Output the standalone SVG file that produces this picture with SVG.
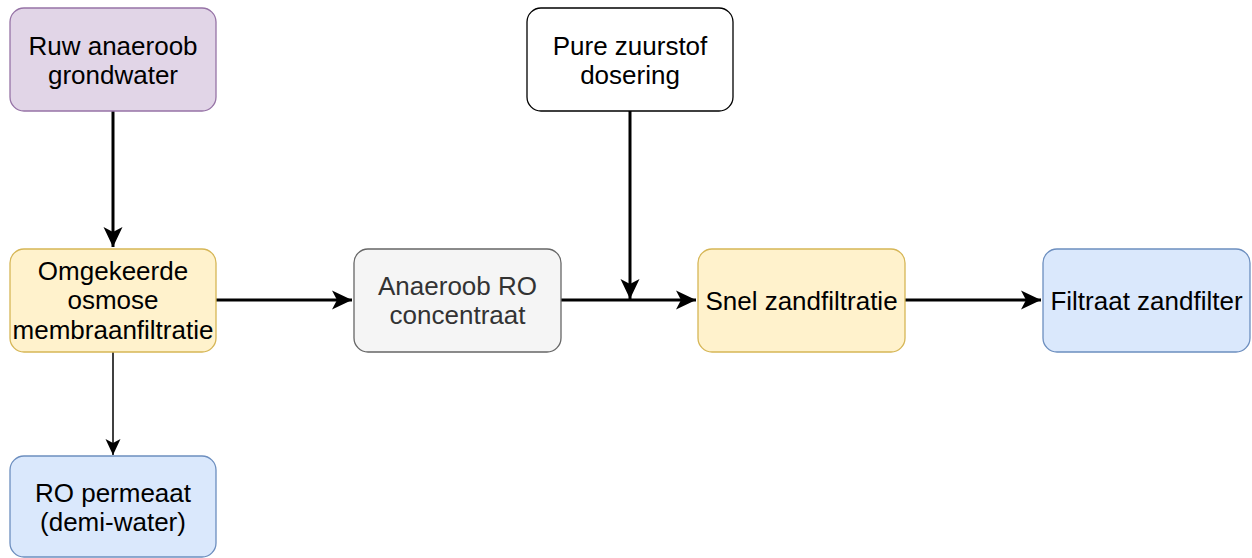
<svg xmlns="http://www.w3.org/2000/svg" width="1252" height="558" viewBox="0 0 1252 558">
<style>
.n{stroke-width:1.3}
.t{font-family:"Liberation Sans",Arial,sans-serif;font-size:26px;text-anchor:middle;dominant-baseline:central;fill:#000}
.purple{fill:#e1d5e7;stroke:#9673a6}
.yellow{fill:#fff2cc;stroke:#d6b656}
.gray{fill:#f5f5f5;stroke:#666666}
.blue{fill:#dae8fc;stroke:#6c8ebf}
.white{fill:#ffffff;stroke:#000000}
.thick{stroke:#000;stroke-width:3;fill:none}
.thin{stroke:#000;stroke-width:1.5;fill:none}
</style>
<defs>
<marker id="aT" markerUnits="userSpaceOnUse" viewBox="-22 -11 23 22" refX="0" refY="0" markerWidth="23" markerHeight="22" orient="auto" overflow="visible">
<path d="M0,0 L-20,-9.5 L-15,0 L-20,9.5 Z" fill="#000"/>
</marker>
<marker id="aS" markerUnits="userSpaceOnUse" viewBox="-18 -9 19 18" refX="0" refY="0" markerWidth="19" markerHeight="18" orient="auto" overflow="visible">
<path d="M0,0 L-16,-7.5 L-12,0 L-16,7.5 Z" fill="#000"/>
</marker>
</defs>
<g id="connectors">
<path class="thick" d="M113,111 L113,247" marker-end="url(#aT)"/>
<path class="thick" d="M216,300 L352,300" marker-end="url(#aT)"/>
<path class="thin" d="M113,352 L113,455" marker-end="url(#aS)"/>
<path class="thick" d="M561,300 L696,300" marker-end="url(#aT)"/>
<path class="thick" d="M630,111 L630,299" marker-end="url(#aT)"/>
<path class="thick" d="M905,300 L1041,300" marker-end="url(#aT)"/>
</g>
<g id="ruw">
<rect class="n purple" x="10" y="8" width="206" height="103" rx="14"/>
<text class="t" x="113" y="45.5">Ruw anaeroob</text>
<text class="t" x="113" y="74.5">grondwater</text>
</g>
<g id="pure">
<rect class="n white" x="527" y="8" width="206" height="103" rx="14"/>
<text class="t" x="630" y="45.5">Pure zuurstof</text>
<text class="t" x="630" y="74.5">dosering</text>
</g>
<g id="omgekeerde">
<rect class="n yellow" x="10" y="249" width="206" height="103" rx="14"/>
<text class="t" x="113" y="270.5">Omgekeerde</text>
<text class="t" x="113" y="300">osmose</text>
<text class="t" x="113" y="329.5">membraanfiltratie</text>
</g>
<g id="anaeroob">
<rect class="n gray" x="354" y="249" width="207" height="103" rx="14"/>
<text class="t" x="457.5" y="286" style="fill:#333333">Anaeroob RO</text>
<text class="t" x="457.5" y="315" style="fill:#333333">concentraat</text>
</g>
<g id="snel">
<rect class="n yellow" x="698" y="249" width="207" height="103" rx="14"/>
<text class="t" x="801.5" y="300.5">Snel zandfiltratie</text>
</g>
<g id="filtraat">
<rect class="n blue" x="1043" y="249" width="207" height="103" rx="14"/>
<text class="t" x="1146.5" y="300.5">Filtraat zandfilter</text>
</g>
<g id="permeaat">
<rect class="n blue" x="10" y="456" width="206" height="101" rx="14"/>
<text class="t" x="113" y="493">RO permeaat</text>
<text class="t" x="113" y="522">(demi-water)</text>
</g>
</svg>
